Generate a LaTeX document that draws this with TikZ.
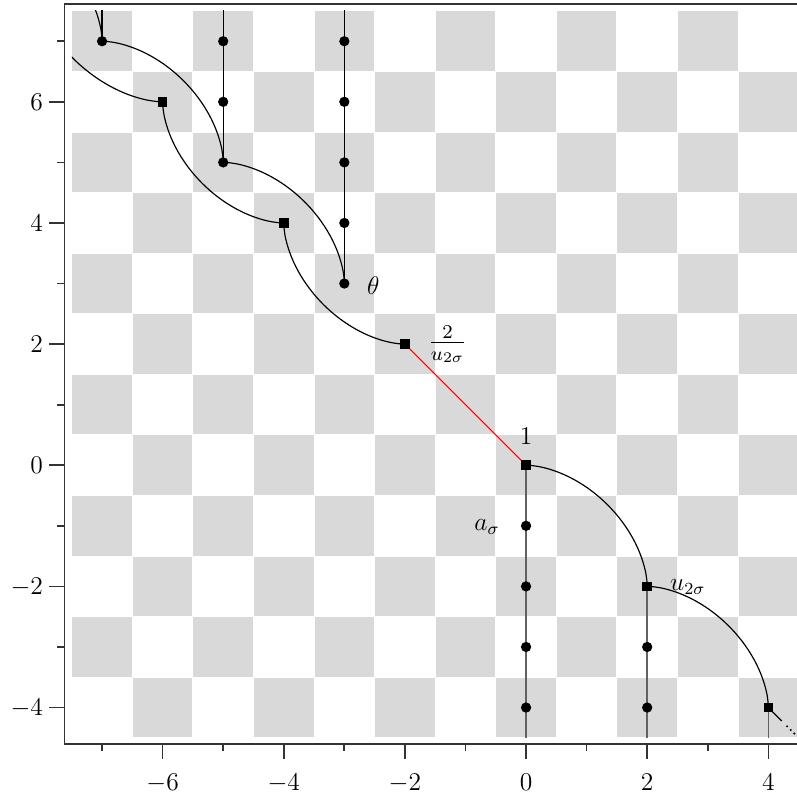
\documentclass[tikz,border=0pt]{standalone}
\definecolor{cellgray}{gray}{0.85}
\definecolor{axisgray}{gray}{0.2}
\tikzset{
  curve/.style={line width=0.55pt, black},
  stem/.style={line width=0.55pt, black},
  lowstem/.style={line width=0.8pt, black!62},
  redseg/.style={line width=0.5pt, red},
  tailstyle/.style={line width=1.1pt, black, line cap=round, dash pattern=on 0pt off 2.4pt},
  dotmark/.style={circle, fill=black, inner sep=0pt, minimum size=0.17cm},
  sqmark/.style={rectangle, fill=black, inner sep=0pt, minimum size=0.16cm},
  frame/.style={line width=0.8pt, axisgray},
  lab/.style={inner sep=0pt},
  sarcplot/.style={domain=0.3:89.7, samples=70, variable=\t},
}
\pgfmathdeclarefunction{scx}{1}{\pgfmathparse{pow(cos(#1),1.142857)}}
\pgfmathdeclarefunction{scy}{1}{\pgfmathparse{pow(sin(#1),1.142857)}}
\begin{document}
\begin{tikzpicture}[font=\fontsize{12}{14.4}\selectfont]
\useasboundingbox (-8.685,-5.477) rectangle (4.467,7.681);
% points
\coordinate (q0) at (0,0);
\coordinate (q1) at (2,-2);
\coordinate (q2) at (4,-4);
\coordinate (qm1) at (-2,2);
\coordinate (qm2) at (-4,4);
\coordinate (qm3) at (-6,6);
\coordinate (farA) at (-8.2,8.2);
\coordinate (farB) at (-9,9);
\coordinate (c1) at (-3,3);
\coordinate (c2) at (-5,5);
\coordinate (c3) at (-7,7);
\coordinate (topA) at (-3,7.6);
\coordinate (topB) at (-5,7.6);
\coordinate (topC) at (-7,7.6);
\coordinate (botA) at (0,-4.6);
\coordinate (botB) at (2,-4.6);
\coordinate (botC) at (4,-4.6);
\coordinate (t1) at (4.22,-4.22);
\coordinate (t2) at (4.31,-4.31);
\coordinate (t3) at (4.7,-4.7);
\begin{scope}
\clip (-7.5,-4.5) rectangle (4.5,7.5);
% checkerboard
\foreach \i in {-7,...,4}{
  \foreach \j in {-4,...,7}{
    \pgfmathtruncatemacro\parity{mod(\i+\j+100,2)}
    \ifnum\parity=0
      \fill[cellgray] (\i-0.492,\j-0.492) rectangle (\i+0.492,\j+0.492);
    \fi
  }
}
% vertical stems
\draw[stem] (c1) -- (topA);
\draw[stem] (c2) -- (topB);
\draw[stem] (c3) -- (topC);
\draw[lowstem] (q0) -- (botA);
\draw[lowstem] (q1) -- (botB);
\draw[lowstem] (q2) -- (botC);
% red segment
\draw[redseg] (qm1) -- (q0);
% square chain arcs
\draw[curve] (q1) -- plot[sarcplot] ({0+2*scx(\t)},{-2+2*scy(\t)}) -- (q0);
\draw[curve] (q2) -- plot[sarcplot] ({2+2*scx(\t)},{-4+2*scy(\t)}) -- (q1);
\draw[curve] (qm2) -- plot[sarcplot] ({-2-2*scx(\t)},{4-2*scy(\t)}) -- (qm1);
\draw[curve] (qm3) -- plot[sarcplot] ({-4-2*scx(\t)},{6-2*scy(\t)}) -- (qm2);
\draw[curve] (farA) -- plot[sarcplot] ({-6-2.2*scx(\t)},{8.2-2.2*scy(\t)}) -- (qm3);
% circle chain arcs
\draw[curve] (c1) -- plot[sarcplot] ({-5+2*scx(\t)},{3+2*scy(\t)}) -- (c2);
\draw[curve] (c2) -- plot[sarcplot] ({-7+2*scx(\t)},{5+2*scy(\t)}) -- (c3);
\draw[curve] (c3) -- plot[sarcplot] ({-9+2*scx(\t)},{7+2*scy(\t)}) -- (farB);
% tail
\draw[curve] (q2) -- (t1);
\draw[tailstyle] (t2) -- (t3);
% marks
\foreach \n/\p in {Q0/q0,Q1/q1,Q2/q2,Qm1/qm1,Qm2/qm2,Qm3/qm3}
  \node[sqmark] (\n) at (\p) {};
\foreach \n/\p in {C1/c1,C2/c2,C3/c3}
  \node[dotmark] (\n) at (\p) {};
\foreach \y in {4,5,6,7} \node[dotmark] (Da\y) at (-3,\y) {};
\foreach \y in {6,7} \node[dotmark] (Db\y) at (-5,\y) {};
\foreach \y in {1,2,3,4} \node[dotmark] (Dc\y) at (0,-\y) {};
\foreach \y in {3,4} \node[dotmark] (Dd\y) at (2,-\y) {};
\end{scope}
% axis frame and ticks
\draw[frame] (-7.62,-4.6) rectangle (4.62,7.615);
\foreach \x in {-6,-4,...,4} \draw[frame] (\x,-4.6) -- (\x,-4.85);
\foreach \x in {-7,-5,...,3} \draw[frame] (\x,-4.6) -- (\x,-4.72);
\foreach \y in {-4,-2,...,6} \draw[frame] (-7.62,\y) -- (-7.87,\y);
\foreach \y in {-3,-1,...,7} \draw[frame] (-7.62,\y) -- (-7.74,\y);
\foreach \x [count=\k] in {-6,-4,...,4} \node[lab,anchor=base] (xl\k) at (\x,-5.377) {$\x$};
\foreach \y [count=\k] in {-4,-2,...,6} \node[lab,anchor=base east] (yl\k) at (-7.97,\y-0.138) {$\y$};
% labels
\node[lab] (th) at (-2.52,2.97) {$\theta$};
\node[lab,anchor=base,scale=1.15] (fr) at (-1.295,1.903) {$\frac{2}{u_{2\sigma}}$};
\node[lab] (one) at (0,0.48) {$1$};
\node[lab,anchor=base east] (as) at (-0.43,-1.08) {$a_\sigma$};
\node[lab,anchor=base west] (us) at (2.37,-2.07) {$u_{2\sigma}$};
\end{tikzpicture}
\end{document}
